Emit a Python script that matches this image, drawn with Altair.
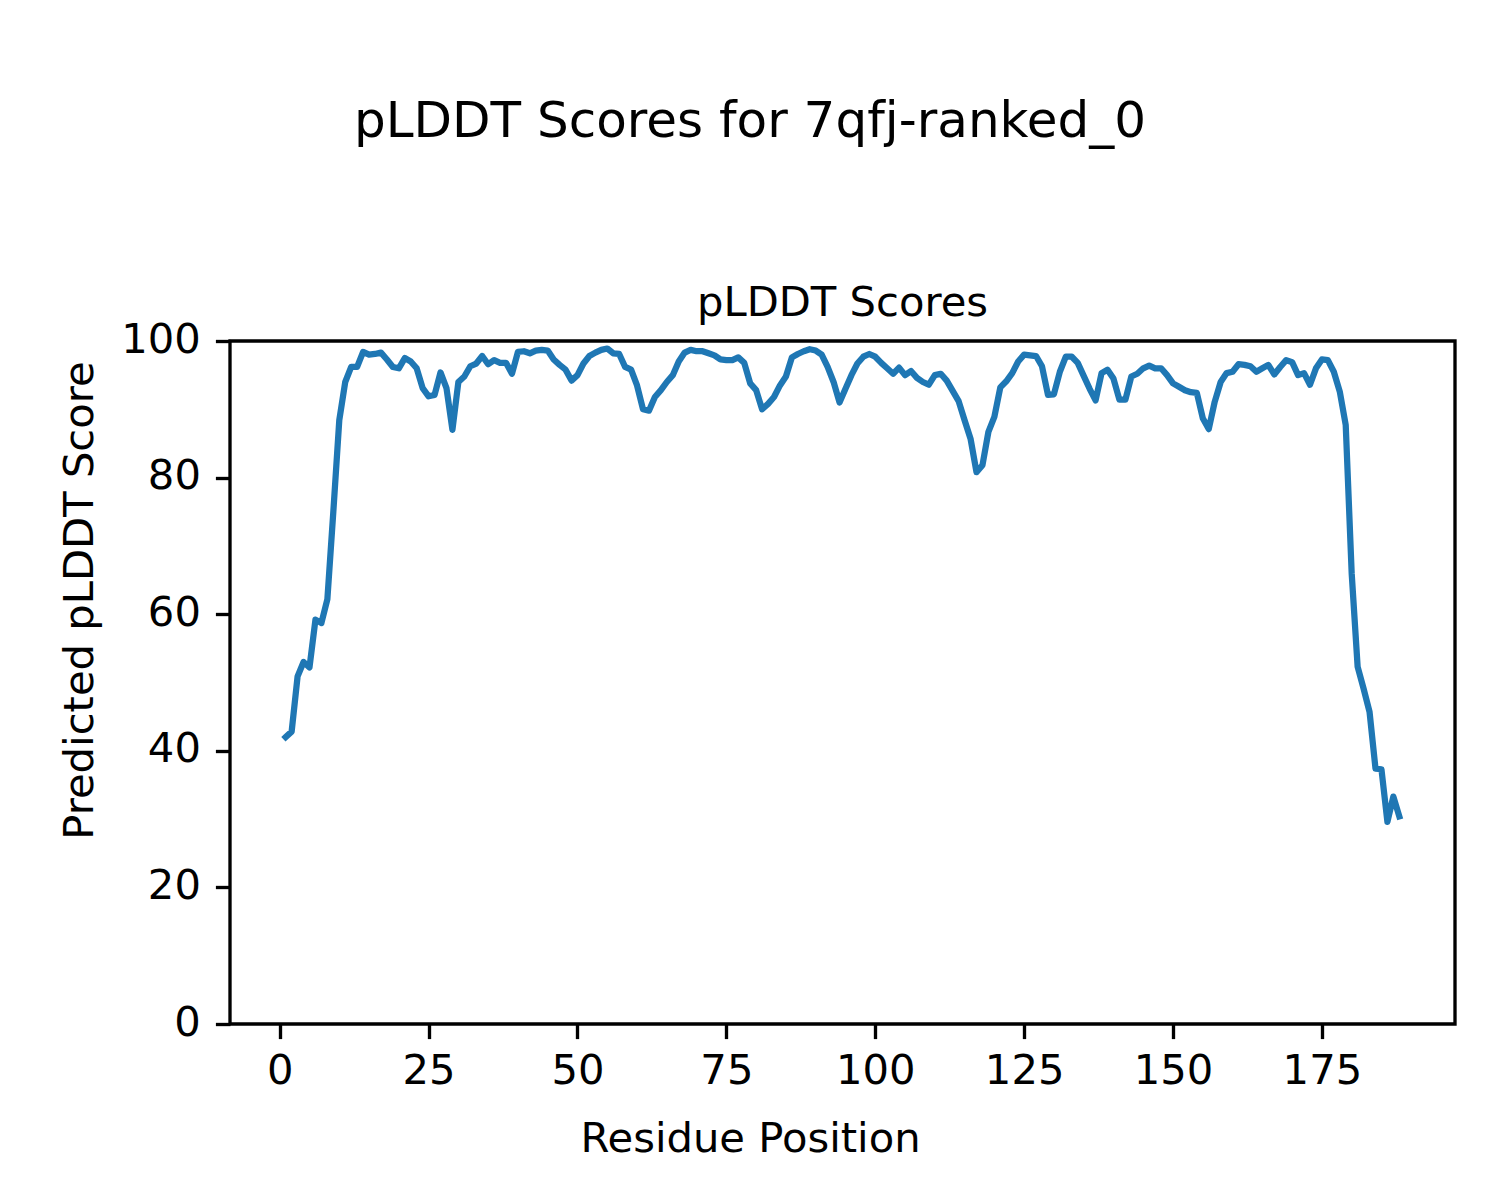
import altair as alt
import pandas as pd

positions = list(range(1, 189))
plddt = [
    42.0, 42.8, 50.9, 53.0, 52.2, 59.2, 58.7, 62.2, 75.0, 88.4,
    94.0, 96.2, 96.2, 98.4, 98.0, 98.1, 98.3, 97.3, 96.2, 96.0,
    97.5, 97.0, 96.0, 93.1, 91.9, 92.1, 95.4, 93.1, 87.0, 94.0,
    94.8, 96.3, 96.7, 97.8, 96.6, 97.2, 96.8, 96.8, 95.2, 98.4,
    98.5, 98.2, 98.6, 98.7, 98.6, 97.3, 96.5, 95.8, 94.2, 95.0,
    96.7, 97.8, 98.3, 98.7, 98.9, 98.2, 98.1, 96.2, 95.8, 93.5,
    90.0, 89.8, 91.8, 92.8, 94.0, 95.0, 97.0, 98.3, 98.7, 98.5,
    98.5, 98.2, 97.9, 97.3, 97.2, 97.2, 97.6, 96.8, 93.8, 92.8,
    90.0, 90.8, 91.8, 93.5, 94.8, 97.6, 98.1, 98.5, 98.8, 98.6,
    98.0, 96.2, 94.0, 91.0, 93.0, 95.0, 96.7, 97.7, 98.1, 97.7,
    96.8, 96.0, 95.2, 96.1, 95.0, 95.6, 94.6, 94.0, 93.6, 95.0,
    95.2, 94.2, 92.7, 91.2, 88.4, 85.7, 80.8, 81.8, 86.7, 88.9,
    93.2, 94.1, 95.3, 97.0, 98.0, 97.9, 97.8, 96.3, 92.1, 92.2,
    95.5, 97.7, 97.7, 96.8, 94.9, 93.0, 91.3, 95.3, 95.8, 94.5,
    91.4, 91.4, 94.8, 95.2, 96.0, 96.4, 96.0, 96.0, 95.0, 93.8,
    93.3, 92.8, 92.5, 92.4, 88.7, 87.1, 91.1, 94.0, 95.3, 95.5,
    96.6, 96.5, 96.3, 95.5, 96.0, 96.5, 95.1, 96.2, 97.2, 96.9,
    95.0, 95.3, 93.6, 96.0, 97.3, 97.2, 95.5, 92.6, 87.7, 66.0,
    52.3, 49.1, 45.7, 37.4, 37.3, 29.6, 33.3, 30.4,
]
x_ticks = [0, 25, 50, 75, 100, 125, 150, 175]
y_ticks = [0, 20, 40, 60, 80, 100]
suptitle = "pLDDT Scores for 7qfj-ranked_0"
axes_title = "pLDDT Scores"
x_label = "Residue Position"
y_label = "Predicted pLDDT Score"

df = pd.DataFrame({"pos": positions, "score": plddt})

FONT = "DejaVu Sans"
W, H = 1225, 683
TICK = 14.6
LW = 3.33

line = alt.Chart(df).mark_line(
    color="#1f77b4", strokeWidth=6.25, strokeCap="square", strokeJoin="round"
).encode(
    x=alt.X(
        "pos:Q",
        scale=alt.Scale(domain=[-8.35, 197.35], nice=False, zero=False),
        axis=alt.Axis(
            values=x_ticks, tickSize=TICK, tickWidth=LW, tickColor="black",
            labelFont=FONT, labelFontSize=41.7, labelColor="black",
            labelPadding=11.7, labelFlush=False, labelOverlap=False,
            domain=False, grid=False,
            title=x_label, titleFont=FONT, titleFontSize=41.7,
            titleFontWeight="normal", titleColor="black",
            titleX=520, titleY=127, titleBaseline="alphabetic", titleAlign="center",
        ),
    ),
    y=alt.Y(
        "score:Q",
        scale=alt.Scale(domain=[0, 100], nice=False),
        axis=alt.Axis(
            values=y_ticks, tickSize=TICK, tickWidth=LW, tickColor="black",
            labelFont=FONT, labelFontSize=41.7, labelColor="black",
            labelPadding=15, labelFlush=False, labelOverlap=False, labelOffset=-2,
            domain=False, grid=False,
            title=y_label, titleFont=FONT, titleFontSize=41.7,
            titleFontWeight="normal", titleColor="black",
            titleAngle=270, titleX=-138, titleY=259,
            titleBaseline="alphabetic", titleAlign="center",
        ),
    ),
)

titles_df = pd.DataFrame({"t": [suptitle, axes_title], "k": ["sup", "ax"]})

sup = alt.Chart(titles_df).transform_filter(alt.datum.k == "sup").mark_text(
    font=FONT, fontSize=50, color="black", align="center", baseline="alphabetic"
).encode(text="t:N", x=alt.value(520), y=alt.value(-204))

axt = alt.Chart(titles_df).transform_filter(alt.datum.k == "ax").mark_text(
    font=FONT, fontSize=41.7, color="black", align="center", baseline="alphabetic"
).encode(text="t:N", x=alt.value(W / 2), y=alt.value(-25))

chart = alt.layer(line, sup, axt).properties(
    width=W, height=H,
    autosize=alt.AutoSizeParams(type="none"),
    padding={"left": 222, "top": 333, "right": 37, "bottom": 168},
    background="white",
).configure_view(stroke="black", strokeWidth=LW)

chart.save("out.html", embed_options={"renderer": "svg", "actions": False})
